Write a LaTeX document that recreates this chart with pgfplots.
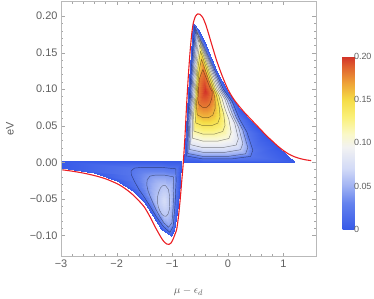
\documentclass[border=0pt]{standalone}
\usepackage{fontspec}
\setmainfont{Liberation Sans}
\usepackage{pgfplots}
\usepackage{pgfplotstable}
\pgfplotsset{compat=1.18}
\definecolor{framegray}{RGB}{185,185,185}
\definecolor{textgray}{RGB}{95,95,95}
\definecolor{curvered}{RGB}{235,30,35}

% positive lobe: rings of equal value (k = ring, v = value), 17 points per ring
\pgfplotstableread{
k x y v
0 -0.620 0.190 0
0 -0.657 0.150 0
0 -0.7075 0.095 0
0 -0.7536 0.045 0
0 -0.795 0.000 0
0 -0.450 0.000 0
0 0.100 0.000 0
0 1.200 0.001 0
0 0.900 0.021 0
0 0.650 0.039 0
0 0.450 0.0535 0
0 0.200 0.074 0
0 0.000 0.0955 0
0 -0.200 0.124 0
0 -0.400 0.160 0
0 -0.530 0.182 0
0 -0.620 0.190 0
1 -0.595 0.186 0.02
1 -0.635 0.150 0.02
1 -0.6855 0.095 0.02
1 -0.727 0.050 0.02
1 -0.739 0.0085 0.02
1 -0.450 0.0045 0.02
1 0.060 0.0045 0.02
1 0.410 0.008 0.02
1 0.450 0.0165 0.02
1 0.345 0.041 0.02
1 0.205 0.060 0.02
1 0.080 0.083 0.02
1 -0.080 0.100 0.02
1 -0.260 0.130 0.02
1 -0.415 0.156 0.02
1 -0.533 0.176 0.02
1 -0.595 0.186 0.02
2 -0.578 0.182 0.04
2 -0.618 0.147 0.04
2 -0.6665 0.095 0.04
2 -0.707 0.0515 0.04
2 -0.717 0.012 0.04
2 -0.450 0.008 0.04
2 0.006 0.008 0.04
2 0.320 0.0115 0.04
2 0.360 0.020 0.04
2 0.270 0.044 0.04
2 0.146 0.062 0.04
2 0.035 0.084 0.04
2 -0.109 0.100 0.04
2 -0.273 0.1287 0.04
2 -0.414 0.1533 0.04
2 -0.522 0.1722 0.04
2 -0.578 0.182 0.04
3 -0.561 0.178 0.06
3 -0.601 0.145 0.06
3 -0.6465 0.095 0.06
3 -0.684 0.0543 0.06
3 -0.692 0.0176 0.06
3 -0.450 0.0136 0.06
3 -0.048 0.0136 0.06
3 0.230 0.0171 0.06
3 0.270 0.0256 0.06
3 0.193 0.048 0.06
3 0.086 0.0648 0.06
3 -0.012 0.085 0.06
3 -0.138 0.100 0.06
3 -0.286 0.1273 0.06
3 -0.413 0.1507 0.06
3 -0.510 0.1686 0.06
3 -0.561 0.178 0.06
4 -0.543 0.173 0.08
4 -0.584 0.142 0.08
4 -0.6275 0.095 0.08
4 -0.662 0.0575 0.08
4 -0.667 0.024 0.08
4 -0.450 0.020 0.08
4 -0.096 0.020 0.08
4 0.150 0.0235 0.08
4 0.190 0.032 0.08
4 0.125 0.053 0.08
4 0.032 0.068 0.08
4 -0.054 0.0865 0.08
4 -0.166 0.100 0.08
4 -0.298 0.1256 0.08
4 -0.411 0.1475 0.08
4 -0.498 0.1642 0.08
4 -0.543 0.173 0.08
5 -0.526 0.168 0.10
5 -0.567 0.139 0.10
5 -0.6075 0.095 0.10
5 -0.638 0.062 0.10
5 -0.638 0.033 0.10
5 -0.450 0.029 0.10
5 -0.174 0.029 0.10
5 0.020 0.0325 0.10
5 0.060 0.041 0.10
5 0.018 0.059 0.10
5 -0.048 0.0725 0.10
5 -0.110 0.0885 0.10
5 -0.195 0.100 0.10
5 -0.311 0.1238 0.10
5 -0.410 0.1442 0.10
5 -0.486 0.1598 0.10
5 -0.526 0.168 0.10
6 -0.509 0.161 0.12
6 -0.552 0.1346 0.12
6 -0.5885 0.095 0.12
6 -0.6145 0.0668 0.12
6 -0.610 0.0426 0.12
6 -0.450 0.0386 0.12
6 -0.240 0.0386 0.12
6 -0.090 0.0421 0.12
6 -0.050 0.0506 0.12
6 -0.074 0.066 0.12
6 -0.117 0.0773 0.12
6 -0.161 0.0905 0.12
6 -0.224 0.100 0.12
6 -0.324 0.1214 0.12
6 -0.409 0.1397 0.12
6 -0.475 0.1537 0.12
6 -0.509 0.161 0.12
7 -0.492 0.152 0.14
7 -0.538 0.1292 0.14
7 -0.5695 0.095 0.14
7 -0.590 0.0725 0.14
7 -0.581 0.054 0.14
7 -0.450 0.050 0.14
7 -0.294 0.050 0.14
7 -0.180 0.0535 0.14
7 -0.140 0.062 0.14
7 -0.151 0.074 0.14
7 -0.1765 0.083 0.14
7 -0.208 0.093 0.14
7 -0.253 0.100 0.14
7 -0.337 0.1182 0.14
7 -0.408 0.1338 0.14
7 -0.463 0.1458 0.14
7 -0.492 0.152 0.14
8 -0.475 0.141 0.16
8 -0.524 0.1226 0.16
8 -0.5495 0.095 0.16
8 -0.565 0.078 0.16
8 -0.551 0.065 0.16
8 -0.450 0.061 0.16
8 -0.348 0.061 0.16
8 -0.270 0.0645 0.16
8 -0.230 0.073 0.16
8 -0.228 0.0815 0.16
8 -0.2355 0.0885 0.16
8 -0.253 0.095 0.16
8 -0.281 0.100 0.16
8 -0.349 0.1144 0.16
8 -0.407 0.1267 0.16
8 -0.452 0.1361 0.16
8 -0.475 0.141 0.16
9 -0.450 0.127 0.18
9 -0.513 0.1142 0.18
9 -0.5305 0.095 0.18
9 -0.540 0.085 0.18
9 -0.519 0.079 0.18
9 -0.450 0.075 0.18
9 -0.384 0.075 0.18
9 -0.330 0.0785 0.18
9 -0.290 0.087 0.18
9 -0.282 0.0915 0.18
9 -0.280 0.0955 0.18
9 -0.292 0.0985 0.18
9 -0.310 0.100 0.18
9 -0.359 0.1095 0.18
9 -0.401 0.1176 0.18
9 -0.433 0.1238 0.18
9 -0.450 0.127 0.18
10 -0.41 0.098 0.215
10 -0.41 0.098 0.215
10 -0.41 0.098 0.215
10 -0.41 0.098 0.215
10 -0.41 0.098 0.215
10 -0.41 0.098 0.215
10 -0.41 0.098 0.215
10 -0.41 0.098 0.215
10 -0.41 0.098 0.215
10 -0.41 0.098 0.215
10 -0.41 0.098 0.215
10 -0.41 0.098 0.215
10 -0.41 0.098 0.215
10 -0.41 0.098 0.215
10 -0.41 0.098 0.215
10 -0.41 0.098 0.215
10 -0.41 0.098 0.215
}\posmesh

% negative lobe: 17 points per ring
\pgfplotstableread{
k x y v
0 -0.835 0.002 0
0 -1.200 0.002 0
0 -1.700 0.002 0
0 -2.200 0.002 0
0 -3.000 0.002 0
0 -3.000 -0.008 0
0 -2.400 -0.015 0
0 -2.000 -0.025 0
0 -1.700 -0.039 0
0 -1.500 -0.054 0
0 -1.350 -0.074 0
0 -1.200 -0.092 0
0 -1.030 -0.101 0
0 -0.970 -0.093 0
0 -0.910 -0.070 0
0 -0.865 -0.030 0
0 -0.835 0.002 0
1 -0.935 -0.009 0.02
1 -1.200 -0.007 0.02
1 -1.550 -0.007 0.02
1 -1.680 -0.008 0.02
1 -1.740 -0.012 0.02
1 -1.735 -0.017 0.02
1 -1.680 -0.026 0.02
1 -1.600 -0.037 0.02
1 -1.500 -0.048 0.02
1 -1.400 -0.060 0.02
1 -1.290 -0.074 0.02
1 -1.160 -0.088 0.02
1 -1.040 -0.096 0.02
1 -0.985 -0.088 0.02
1 -0.950 -0.060 0.02
1 -0.930 -0.025 0.02
1 -0.935 -0.009 0.02
2 -0.975 -0.020 0.04
2 -1.150 -0.0175 0.04
2 -1.300 -0.0175 0.04
2 -1.400 -0.019 0.04
2 -1.450 -0.024 0.04
2 -1.458 -0.031 0.04
2 -1.435 -0.039 0.04
2 -1.395 -0.047 0.04
2 -1.345 -0.056 0.04
2 -1.290 -0.065 0.04
2 -1.225 -0.074 0.04
2 -1.150 -0.083 0.04
2 -1.065 -0.089 0.04
2 -1.005 -0.083 0.04
2 -0.982 -0.060 0.04
2 -0.976 -0.036 0.04
2 -0.975 -0.020 0.04
3 -1.070 -0.037 0.06
3 -1.120 -0.032 0.06
3 -1.170 -0.032 0.06
3 -1.210 -0.035 0.06
3 -1.245 -0.041 0.06
3 -1.265 -0.048 0.06
3 -1.265 -0.055 0.06
3 -1.250 -0.061 0.06
3 -1.225 -0.066 0.06
3 -1.190 -0.071 0.06
3 -1.150 -0.0735 0.06
3 -1.110 -0.0740 0.06
3 -1.075 -0.071 0.06
3 -1.052 -0.065 0.06
3 -1.045 -0.055 0.06
3 -1.050 -0.045 0.06
3 -1.070 -0.037 0.06
4 -1.155 -0.053 0.072
4 -1.155 -0.053 0.072
4 -1.155 -0.053 0.072
4 -1.155 -0.053 0.072
4 -1.155 -0.053 0.072
4 -1.155 -0.053 0.072
4 -1.155 -0.053 0.072
4 -1.155 -0.053 0.072
4 -1.155 -0.053 0.072
4 -1.155 -0.053 0.072
4 -1.155 -0.053 0.072
4 -1.155 -0.053 0.072
4 -1.155 -0.053 0.072
4 -1.155 -0.053 0.072
4 -1.155 -0.053 0.072
4 -1.155 -0.053 0.072
4 -1.155 -0.053 0.072
}\negmesh

\begin{document}
\begin{tikzpicture}
\useasboundingbox (-61bp,-42.3bp) rectangle (313bp,256.5bp);
\begin{axis}[
  at={(0,0)}, anchor=south west,
  scale only axis, width=255bp, height=255bp,
  xmin=-3, xmax=1.586, ymin=-0.129, ymax=0.22,
  xtick={-3,-2,-1,0,1}, xticklabels={−3,−2,−1,0,1},
  ytick={-0.1,-0.05,0,0.05,0.1,0.15,0.2},
  yticklabels={−0.10,−0.05,0.00,0.05,0.10,0.15,0.20},
  minor x tick num=4, minor y tick num=4,
  major tick length=4bp, minor tick length=2.2bp,
  tick style={gray!70},
  axis line style={framegray},
  axis on top,
  tick label style={font=\fontsize{11}{12}\selectfont, text=textgray},
  label style={font=\fontsize{11}{12}\selectfont, text=textgray},
  xlabel={$\mu-\epsilon_d$},
  ylabel={eV},
  xlabel style={at={(axis description cs:0.5,-0.137)}, anchor=center},
  ylabel style={at={(axis description cs:-0.2,0.5)}, anchor=center},
  colormap={temp}{rgb255(0cm)=(55,90,232) rgb255(3cm)=(100,130,238)
    rgb255(5cm)=(160,178,243) rgb255(7cm)=(210,218,247) rgb255(9.5cm)=(242,242,242)
    rgb255(11cm)=(250,248,200) rgb255(13cm)=(250,240,120) rgb255(15cm)=(245,220,70)
    rgb255(17cm)=(238,160,55) rgb255(19cm)=(222,90,45) rgb255(20cm)=(210,50,40)},
  point meta min=0, point meta max=0.2,
  colorbar,
  colorbar style={
    at={(parent axis.south east)}, anchor=south west,
    xshift=18bp, yshift=27.4bp,
    width=12bp, height=172.6bp,
    ytick={0,0.05,0.1,0.15,0.2}, yticklabels={0,0.05,0.10,0.15,0.20},
    yticklabel style={font=\fontsize{9}{10}\selectfont, text=textgray, xshift=-4bp},
    axis line style={draw=none}, major tick length=0pt,
  },
  contour/.style={black, opacity=0.45, line width=0.45pt},
]
\addplot[surf, shader=interp, mesh/rows=5, mesh/cols=17, point meta=explicit]
  table[x=x, y=y, meta=v] {\negmesh};
\addplot[surf, shader=interp, mesh/rows=11, mesh/cols=17, point meta=explicit]
  table[x=x, y=y, meta=v] {\posmesh};
\pgfplotsinvokeforeach{1,...,9}{
  \addplot[contour, restrict expr to domain={\thisrow{k}}{#1:#1}]
    table[x=x, y=y] {\posmesh};
}
\pgfplotsinvokeforeach{1,...,3}{
  \addplot[contour, restrict expr to domain={\thisrow{k}}{#1:#1}]
    table[x=x, y=y] {\negmesh};
}
\addplot[curvered, line width=1.1pt, smooth, tension=0.4] coordinates {
  (-3.0,-0.0101) (-2.8,-0.0122) (-2.6,-0.0148) (-2.4,-0.0182) (-2.2,-0.0226)
  (-2.0,-0.0290) (-1.9,-0.0333) (-1.8,-0.0387) (-1.7,-0.0450) (-1.6,-0.0527)
  (-1.5,-0.0615) (-1.4,-0.0745) (-1.3,-0.0895) (-1.2,-0.1030) (-1.15,-0.1085)
  (-1.1,-0.1118) (-1.06,-0.1125) (-1.02,-0.1105) (-0.98,-0.1045) (-0.95,-0.0985)
  (-0.92,-0.0920) (-0.89,-0.0760) (-0.86,-0.0540) (-0.83,-0.0270) (-0.80,0.0)
  (-0.77,0.036) (-0.74,0.080) (-0.71,0.118) (-0.68,0.150) (-0.65,0.175)
  (-0.62,0.191) (-0.58,0.200) (-0.54,0.203) (-0.50,0.2025) (-0.45,0.198)
  (-0.40,0.189) (-0.35,0.177) (-0.30,0.164) (-0.20,0.139) (-0.10,0.118)
  (0.0,0.100) (0.1,0.087) (0.2,0.077) (0.3,0.068) (0.4,0.060) (0.5,0.052)
  (0.6,0.044) (0.7,0.036) (0.8,0.029) (0.9,0.022) (1.0,0.016) (1.1,0.011)
  (1.2,0.0075) (1.3,0.0050) (1.4,0.0033) (1.5,0.0022)};
\end{axis}
\end{tikzpicture}
\end{document}
